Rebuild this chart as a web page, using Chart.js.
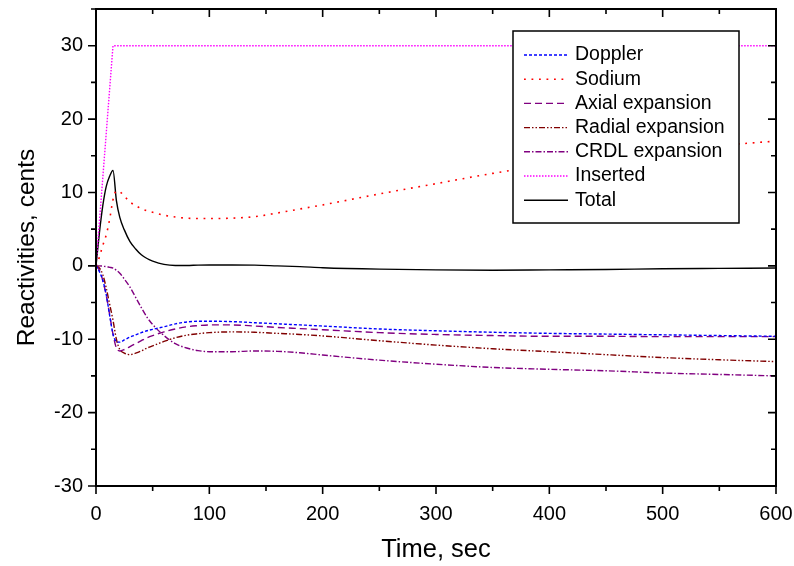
<!DOCTYPE html>
<html><head><meta charset="utf-8">
<script src="https://cdn.jsdelivr.net/npm/chart.js@4.4.1/dist/chart.umd.min.js"></script>
<style>html,body{margin:0;padding:0;background:#fff;}#wrap{width:794px;height:566px;}</style>
</head><body><div id="wrap"><canvas id="c" width="794" height="566"></canvas></div>
<script>
// ---- data ----
const timeSec = [0,3,6,9,12,15,18,21,25,30,35,40,45,50,60,70,80,90,100,120,140,160,180,200,250,300,350,400,450,500,550,600];
const doppler = [0,-0.8,-2.0,-3.9,-6.7,-9.3,-10.3,-10.4,-10.1,-9.7,-9.4,-9.1,-8.85,-8.65,-8.3,-7.9,-7.65,-7.55,-7.55,-7.6,-7.75,-7.9,-8.05,-8.2,-8.6,-8.85,-9.05,-9.2,-9.3,-9.4,-9.5,-9.6];
const sodium = [0,1.2,2.8,4.2,6.3,9.0,10.2,10.1,9.5,8.7,8.2,7.8,7.5,7.3,6.9,6.65,6.5,6.45,6.45,6.5,6.7,7.2,7.75,8.3,9.8,11.2,12.6,13.8,14.9,15.7,16.4,17.0];
const axialExp = [0,-0.6,-2.0,-4.0,-6.6,-9.3,-11.2,-11.6,-11.4,-11.0,-10.6,-10.2,-9.8,-9.5,-9.0,-8.6,-8.3,-8.15,-8.05,-8.05,-8.2,-8.4,-8.55,-8.7,-9.1,-9.35,-9.5,-9.6,-9.6,-9.65,-9.65,-9.65];
const radialExp = [0,-0.3,-1.2,-3.0,-5.2,-7.4,-10.0,-11.4,-11.9,-12.1,-11.9,-11.6,-11.2,-10.9,-10.3,-9.8,-9.45,-9.25,-9.1,-9.0,-9.05,-9.2,-9.35,-9.55,-10.2,-10.8,-11.3,-11.7,-12.1,-12.5,-12.8,-13.05];
const crdlExp = [0,0,-0.05,-0.1,-0.2,-0.3,-0.6,-1.0,-1.8,-2.9,-4.3,-5.7,-7.0,-8.0,-9.5,-10.6,-11.2,-11.55,-11.7,-11.7,-11.6,-11.65,-11.85,-12.15,-12.85,-13.4,-13.85,-14.1,-14.3,-14.6,-14.8,-15.0];
const inserted = [0,6,12,18,24,30,30,30,30,30,30,30,30,30,30,30,30,30,30,30,30,30,30,30,30,30,30,30,30,30,30,30];
const total = [0,4.5,8.2,10.8,12.2,13.0,8.9,6.6,4.9,3.3,2.3,1.5,1.0,0.65,0.2,0.05,0.05,0.1,0.12,0.12,0.1,0.0,-0.1,-0.25,-0.45,-0.55,-0.6,-0.55,-0.5,-0.4,-0.35,-0.3];
const seriesNames = ['Doppler','Sodium','Axial expansion','Radial expansion','CRDL expansion','Inserted','Total'];
const xTickValues = [0,100,200,300,400,500,600];
const yTickValues = [-30,-20,-10,0,10,20,30];

const FONT = 'Arial, "Liberation Sans", sans-serif';
const pts = arr => timeSec.map((t,i)=>({x:t,y:arr[i]}));
const styles = [
  {c:'#0000FF', d:[3,2], w:1.4},
  {c:'#FF0000', d:[1.8,5.7], w:1.6},
  {c:'#800080', d:[7,4], w:1.4},
  {c:'#800000', d:[6,2,1.5,2,1.5,2], w:1.4},
  {c:'#800080', d:[6,2,1.5,2], w:1.4},
  {c:'#FF00FF', d:[1.5,1.5], w:1.4},
  {c:'#000000', d:[], w:1.4}
];
const seriesData = [doppler,sodium,axialExp,radialExp,crdlExp,inserted,total];
const datasets = seriesData.map((arr,i)=>({
  label: seriesNames[i],
  data: pts(arr),
  borderColor: styles[i].c,
  borderDash: styles[i].d,
  borderWidth: styles[i].w,
  pointRadius: 0,
  fill: false,
  tension: i===5 ? 0 : 0.4,
  cubicInterpolationMode: i===5 ? 'default' : 'monotone'
}));

const framePlugin = {
  id:'frameLegend',
  afterDatasetsDraw(chart){
    const {ctx, chartArea:a, scales:{x, y}} = chart;
    ctx.save();
    ctx.strokeStyle='#000';
    ctx.setLineDash([]);
    ctx.lineWidth=2;
    ctx.strokeRect(a.left, a.top, a.right-a.left, a.bottom-a.top);
    ctx.lineWidth=1.6;
    ctx.beginPath();
    for(let v=0; v<=600; v+=50){
      const px = x.getPixelForValue(v);
      const len = (v%100===0)?8:5;
      ctx.moveTo(px, a.bottom); ctx.lineTo(px, a.bottom+len);
      ctx.moveTo(px, a.top); ctx.lineTo(px, a.top+len);
    }
    for(let v=-30; v<=35; v+=5){
      const py = y.getPixelForValue(v);
      const len = (v%10===0)?8:5;
      ctx.moveTo(a.left, py); ctx.lineTo(a.left-len, py);
      ctx.moveTo(a.right, py); ctx.lineTo(a.right-len, py);
    }
    ctx.stroke();
    // legend box
    const bx=513, by=31, bw=226, bh=192;
    ctx.fillStyle='#fff'; ctx.fillRect(bx,by,bw,bh);
    ctx.lineWidth=1.5; ctx.strokeRect(bx,by,bw,bh);
    chart.data.datasets.forEach((ds,i)=>{
      const ly = 55 + i*24.2;
      ctx.beginPath();
      ctx.setLineDash(ds.borderDash);
      ctx.strokeStyle=ds.borderColor;
      ctx.lineWidth=ds.borderWidth;
      ctx.moveTo(524,ly); ctx.lineTo(568,ly); ctx.stroke();
      ctx.setLineDash([]);
      ctx.fillStyle='#000';
      ctx.font='19.5px '+FONT;
      ctx.textBaseline='middle'; ctx.textAlign='left';
      ctx.fillText(ds.label, 575, ly);
    });
    ctx.restore();
  }
};

new Chart(document.getElementById('c'), {
  type:'line',
  data:{datasets},
  options:{
    responsive:false, animation:false, devicePixelRatio:1,
    layout:{padding:{left:0, top:9, right:18, bottom:0}},
    plugins:{legend:{display:false}, tooltip:{enabled:false}},
    scales:{
      x:{type:'linear', min:0, max:600,
        afterBuildTicks: s => { s.ticks = xTickValues.map(v=>({value:v})); },
        afterFit: s => { s.height = 80; s.paddingLeft = 0; s.paddingRight = 0; },
        grid:{display:false, drawTicks:false}, border:{display:false},
        ticks:{color:'#000', font:{family:FONT, size:20}, padding:16, maxRotation:0, autoSkip:false},
        title:{display:true, text:'Time, sec', color:'#000', font:{family:FONT, size:25.5}, padding:{top:0,bottom:1}}
      },
      y:{type:'linear', min:-30, max:35,
        afterBuildTicks: s => { s.ticks = yTickValues.map(v=>({value:v})); },
        afterFit: s => { s.width = 96; s.paddingTop = 0; s.paddingBottom = 0; },
        grid:{display:false, drawTicks:false}, border:{display:false},
        ticks:{color:'#000', font:{family:FONT, size:20}, padding:13, autoSkip:false},
        title:{display:true, text:'Reactivities, cents', color:'#000', font:{family:FONT, size:24.5}, padding:{top:13,bottom:0}}
      }
    }
  },
  plugins:[framePlugin]
});
</script></body></html>
